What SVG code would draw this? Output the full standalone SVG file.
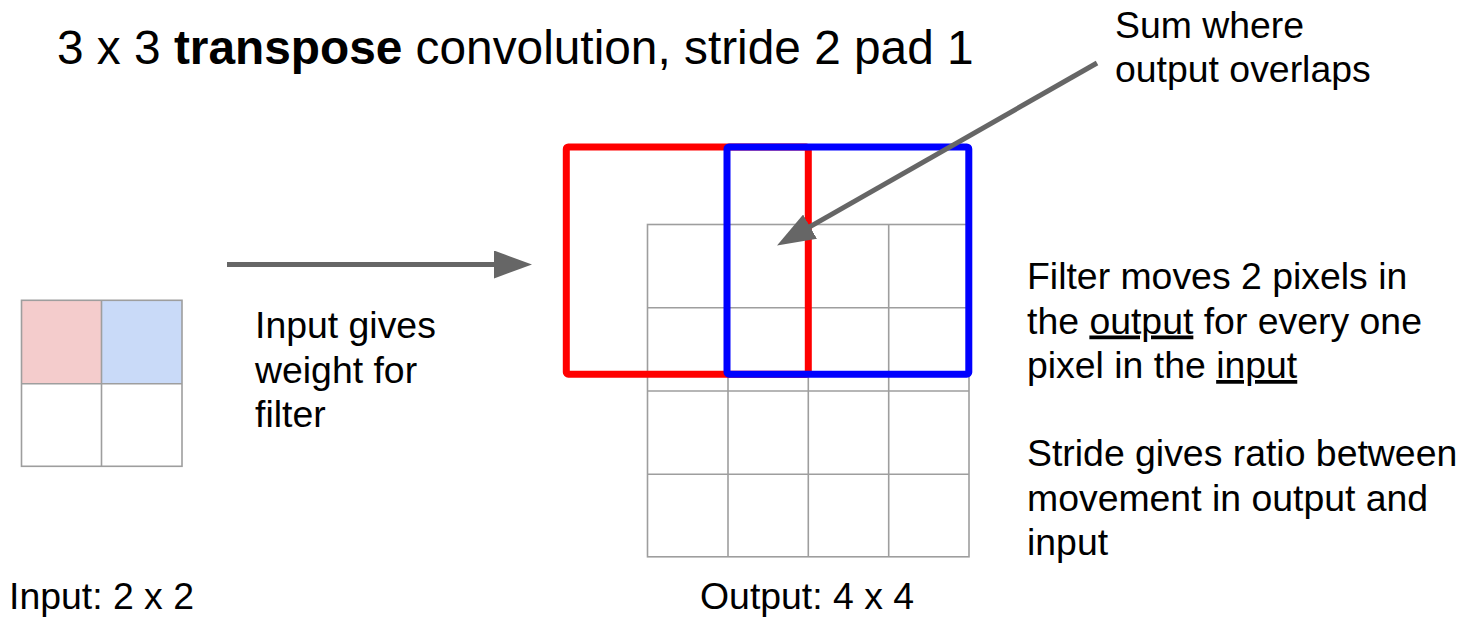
<svg xmlns="http://www.w3.org/2000/svg" width="1462" height="619" viewBox="0 0 1462 619">
<style>
  text { font-family: "Liberation Sans", Arial, sans-serif; fill: #000; }
  .title { font-size: 47.8px; }
  .body { font-size: 37.4px; }
  .u { text-decoration: underline; }
  .grid { fill: none; stroke: #9e9e9e; stroke-width: 1.6; }
  .conn { stroke: #666; stroke-width: 5; fill: none; }
  .filt { fill: none; stroke-width: 7; stroke-linejoin: round; }
</style>
<defs>
  <marker id="ah" markerUnits="userSpaceOnUse" markerWidth="38" markerHeight="28" refX="2" refY="14" orient="auto">
    <path d="M0,0 L38,14 L0,28 Z" fill="#666"/>
  </marker>
</defs>
<rect width="1462" height="619" fill="#fff"/>

<g id="title">
  <text class="title" x="57" y="64">3 x 3 <tspan font-weight="bold">transpose</tspan> convolution, stride 2 pad 1</text>
</g>

<g id="input-grid">
  <rect x="21.5" y="300.3" width="80" height="83.5" fill="#f4cccc"/>
  <rect x="101.5" y="300.3" width="80.5" height="83.5" fill="#c9daf8"/>
  <rect class="grid" x="21.5" y="300.3" width="160.5" height="166"/>
  <line class="grid" x1="101.5" y1="300.3" x2="101.5" y2="466.3"/>
  <line class="grid" x1="21.5" y1="383.8" x2="182" y2="383.8"/>
</g>

<g id="output-grid">
  <rect class="grid" x="647.5" y="224.5" width="321.5" height="332.3"/>
  <line class="grid" x1="728" y1="224.5" x2="728" y2="556.8"/>
  <line class="grid" x1="808.3" y1="224.5" x2="808.3" y2="556.8"/>
  <line class="grid" x1="888.7" y1="224.5" x2="888.7" y2="556.8"/>
  <line class="grid" x1="647.5" y1="307.8" x2="969" y2="307.8"/>
  <line class="grid" x1="647.5" y1="391" x2="969" y2="391"/>
  <line class="grid" x1="647.5" y1="474.3" x2="969" y2="474.3"/>
</g>

<g id="red-filter">
  <rect class="filt" stroke="#ff0000" x="566.3" y="147" width="242" height="227.2" rx="2"/>
</g>
<g id="blue-filter">
  <rect class="filt" stroke="#0000ff" x="727" y="147" width="241.8" height="227.2" rx="2"/>
</g>

<g id="connectors">
  <line class="conn" x1="227" y1="264.5" x2="496" y2="264.5" marker-end="url(#ah)"/>
  <line class="conn" x1="1097" y1="63" x2="808.3" y2="227.7" marker-end="url(#ah)"/>
</g>

<g id="sum-label">
  <text class="body" x="1115" y="38">Sum where</text>
  <text class="body" x="1115" y="82">output overlaps</text>
</g>

<g id="input-label">
  <text class="body" x="255" y="338">Input gives</text>
  <text class="body" x="255" y="382.5">weight for</text>
  <text class="body" x="255" y="427">filter</text>
</g>

<g id="filter-label">
  <text class="body" x="1027" y="289">Filter moves 2 pixels in</text>
  <text class="body" x="1027" y="333.5">the <tspan class="u">output</tspan> for every one</text>
  <text class="body" x="1027" y="378">pixel in the <tspan class="u">input</tspan></text>
</g>

<g id="stride-label">
  <text class="body" x="1027" y="466">Stride gives ratio between</text>
  <text class="body" x="1027" y="510.5">movement in output and</text>
  <text class="body" x="1027" y="555">input</text>
</g>

<g id="input-caption">
  <text class="body" x="9" y="609">Input: 2 x 2</text>
</g>
<g id="output-caption">
  <text class="body" x="700" y="609">Output: 4 x 4</text>
</g>
</svg>
